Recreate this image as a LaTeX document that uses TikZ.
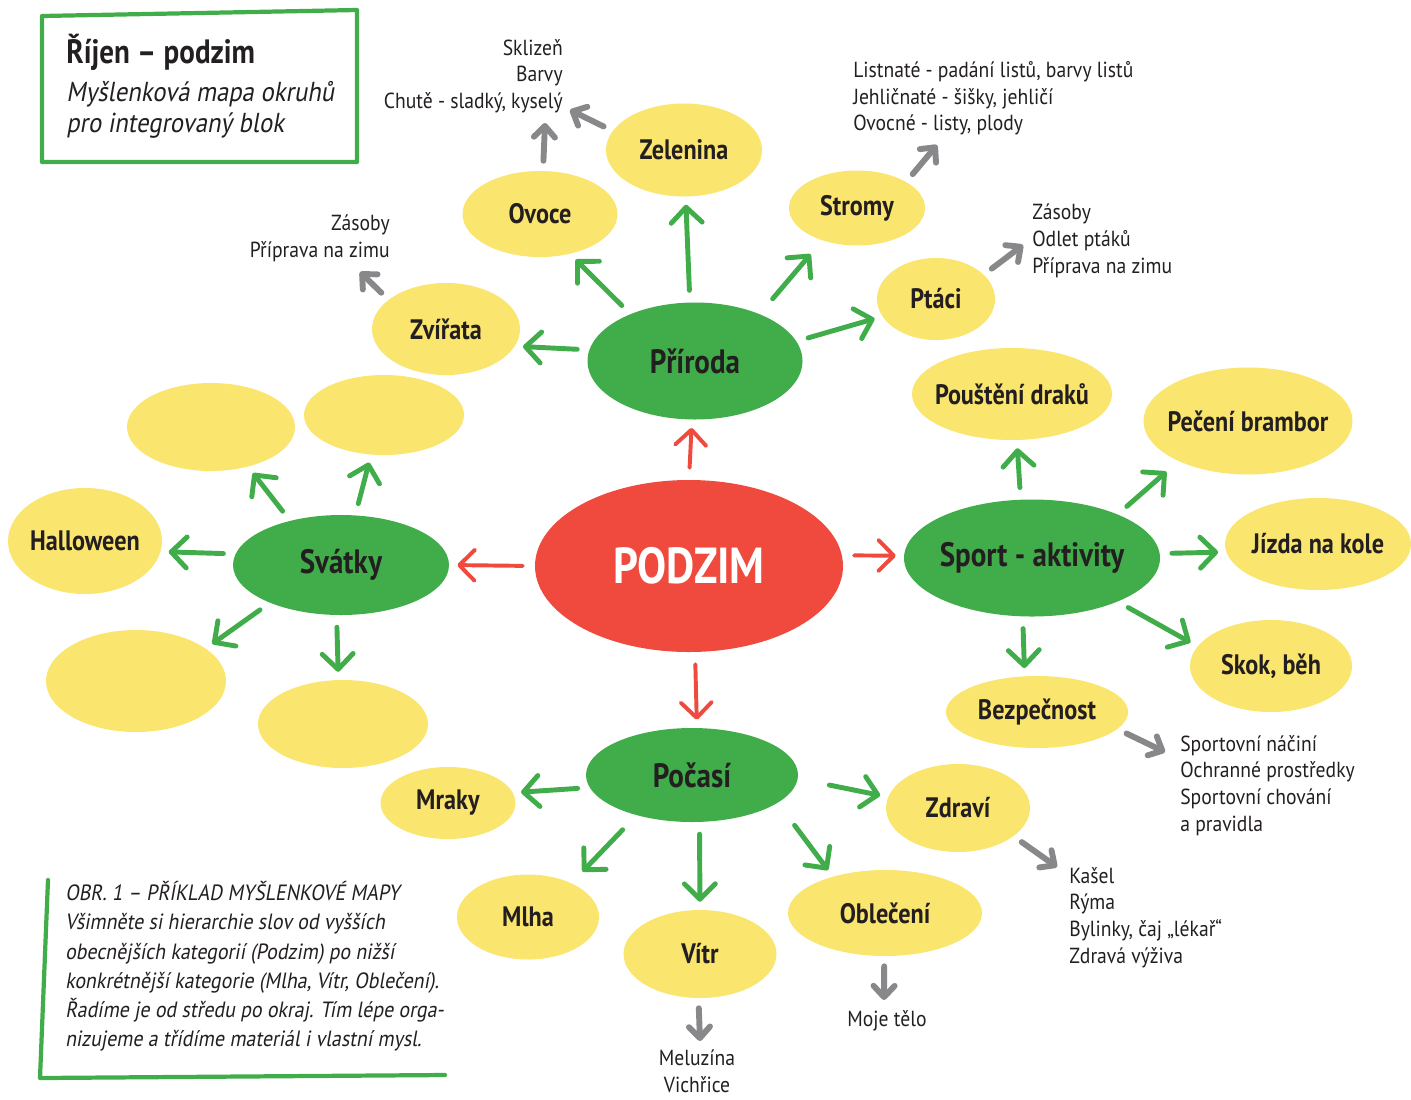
\documentclass[tikz,border=0pt]{standalone}
\usepackage{fontspec}
\setmainfont{PT Sans}[FakeStretch=0.86]
\newfontfamily\notefont{PT Sans}[FakeStretch=0.9]
\newfontfamily\slantfont{PT Sans}[FakeStretch=0.9,FakeSlant=0.18]
\usetikzlibrary{shapes.geometric,arrows.meta}

\definecolor{leafgreen}{RGB}{64,173,74}
\definecolor{sunyellow}{RGB}{250,229,110}
\definecolor{autumnred}{RGB}{239,74,61}
\definecolor{arrowgrey}{RGB}{136,136,138}
\definecolor{ink}{RGB}{35,31,32}

\newcommand{\cen}[1]{\makebox[0pt]{#1}}

\tikzset{
  blob/.style={ellipse, fill=sunyellow, inner sep=0pt, text=ink, font=\bfseries\fontsize{20}{24}\selectfont},
  branch/.style={blob, fill=leafgreen, font=\bfseries\fontsize{24}{28}\selectfont},
  core/.style={blob, fill=autumnred, text=white, font=\bfseries\fontsize{36}{40}\selectfont},
  sz/.style 2 args={minimum width=#1*0.025cm, minimum height=#2*0.025cm},
  note/.style={inner sep=0pt, text=ink, font=\notefont\fontsize{15.5}{19}\selectfont},
  redarrow/.style={draw=autumnred, line width=2.8pt, line cap=round, -{Straight Barb[length=11pt,width=22pt,round]}, shorten <=0.3cm, shorten >=0.2cm},
  greenarrow/.style={draw=leafgreen, line width=3.5pt, line cap=round, -{Straight Barb[length=11pt,width=22pt,round]}, shorten <=0.3cm, shorten >=0.2cm},
  greyarrow/.style={draw=arrowgrey, line width=4.2pt, line cap=round, -{Straight Barb[length=8pt,width=15pt,round]}, shorten <=0.25cm},
  frame/.style={draw=leafgreen, line width=3pt, line cap=round, line join=round},
}

\begin{document}
\begin{tikzpicture}[x=0.025cm, y=-0.025cm]
  \useasboundingbox (0,0) rectangle (1411,1099);

  \draw [frame] (42,16) -- (357,10) -- (357,162) -- (42,162) -- cycle;
  \node [anchor=base west, inner sep=0pt, text=ink, font=\bfseries\fontsize{24}{28}\selectfont] (title) at (66,63) {Říjen – podzim};
  \node [anchor=north west, inner sep=0pt, text=ink, align=left, font=\slantfont\fontsize{19.5}{22}\selectfont] (subtitle) at (66,81) {Myšlenková mapa okruhů\\pro integrovaný blok};

  \node [core, sz={308}{172}] (podzim) at (689,566) {\cen{PODZIM}};
  \node [branch, sz={215}{117}] (priroda) at (695,361) {\cen{Příroda}};
  \node [branch, sz={216}{100}] (svatky) at (341,565) {\cen{Svátky}};
  \node [branch, sz={256}{117}] (sport) at (1032,558) {\cen{Sport - aktivity}};
  \node [branch, sz={212}{94}] (pocasi) at (692,775) {\cen{Počasí}};

  \node [blob, sz={156}{93}] (zelenina) at (684,150) {\cen{Zelenina}};
  \node [blob, sz={155}{86}] (ovoce) at (540,214) {\cen{Ovoce}};
  \node [blob, sz={136}{75}] (stromy) at (857,208) {\cen{Stromy}};
  \node [blob, sz={118}{82}] (ptaci) at (936,299) {\cen{Ptáci}};
  \node [blob, sz={148}{92}] (zvirata) at (446,329) {\cen{Zvířata}};
  \node [blob, sz={200}{92}] (draci) at (1012,394) {\cen{Pouštění draků}};
  \node [blob, sz={209}{107}] (brambory) at (1248,421) {\cen{Pečení brambor}};
  \node [blob, sz={186}{92}] (kolo) at (1318,544) {\cen{Jízda na kole}};
  \node [blob, sz={162}{92}] (skok) at (1271,666) {\cen{Skok, běh}};
  \node [blob, sz={182}{72}] (bezpecnost) at (1037,712) {\cen{Bezpečnost}};
  \node [blob, sz={144}{88}] (zdravi) at (958,808) {\cen{Zdraví}};
  \node [blob, sz={194}{86}] (obleceni) at (885,913) {\cen{Oblečení}};
  \node [blob, sz={153}{88}] (vitr) at (700,954) {\cen{Vítr}};
  \node [blob, sz={142}{85}] (mlha) at (528,917) {\cen{Mlha}};
  \node [blob, sz={135}{72}] (mraky) at (448,803) {\cen{Mraky}};
  \node [blob, sz={154}{106}] (halloween) at (85,541) {\cen{Halloween}};
  \node [blob, sz={168}{88}] (svatekA) at (211,427) {};
  \node [blob, sz={160}{80}] (svatekB) at (384,415) {};
  \node [blob, sz={180}{102}] (svatekC) at (136,681) {};
  \node [blob, sz={170}{88}] (svatekD) at (343,724) {};

  \node [note, anchor=north east, align=right] (ovocetxt) at (563,39) {Sklizeň\\Barvy\\Chutě - sladký, kyselý};
  \node [note, anchor=north east, align=right] (zviratatxt) at (390,215) {Zásoby\\Příprava na zimu};
  \node [note, anchor=north west, align=left] (stromytxt) at (853,61) {Listnaté - padání listů, barvy listů\\Jehličnaté - šišky, jehličí\\Ovocné - listy, plody};
  \node [note, anchor=north west, align=left] (ptacitxt) at (1032,204) {Zásoby\\Odlet ptáků\\Příprava na zimu};
  \node [note, anchor=north west, align=left] (bezpecnosttxt) at (1180,735) {Sportovní náčiní\\Ochranné prostředky\\Sportovní chování\\a pravidla};
  \node [note, anchor=north west, align=left] (zdravitxt) at (1069,867) {Kašel\\Rýma\\Bylinky, čaj „lékař“\\Zdravá výživa};
  \node [note, anchor=north, align=center] (vitrtxt) at (697,1050) {Meluzína\\Vichřice};
  \node [note, anchor=north, align=center] (obleceninxt) at (887,1010) {Moje tělo};

  \draw [redarrow] (podzim.north) -- (priroda.-93);
  \draw [redarrow] (podzim.west) -- (svatky.east);
  \draw [redarrow] (podzim.4) -- (sport.179);
  \draw [redarrow] (podzim.-86) -- (pocasi.84);

  \draw [greenarrow] (priroda.174) -- (zvirata.-14);
  \draw [greenarrow] (priroda.144) -- (ovoce.-53);
  \draw [greenarrow] (priroda.95) -- (zelenina.-88);
  \draw [greenarrow, shorten <=0.5cm, shorten >=0.45cm] (priroda.36) -- (stromy.-137);
  \draw [greenarrow] (priroda.11) -- (ptaci.-162);

  \draw [greenarrow] (svatky.174) -- (halloween.-8);
  \draw [greenarrow] (svatky.139) -- (svatekA.-47);
  \draw [greenarrow] (svatky.74) -- (svatekB.-108);
  \draw [greenarrow] (svatky.-152) -- (svatekC.25);
  \draw [greenarrow] (svatky.-95) -- (svatekD.96);

  \draw [greenarrow] (sport.101) -- (draci.-84);
  \draw [greenarrow, shorten >=0.4cm] (sport.27) -- (brambory.-150);
  \draw [greenarrow] (sport.2) -- (kolo.-175);
  \draw [greenarrow] (sport.-27) -- (skok.165);
  \draw [greenarrow] (sport.-99) -- (bezpecnost.109);

  \draw [greenarrow] (pocasi.-173) -- (mraky.9);
  \draw [greenarrow, shorten <=0.5cm, shorten >=0.4cm] (pocasi.-144) -- (mlha.38);
  \draw [greenarrow] (pocasi.-81) -- (vitr.90);
  \draw [greenarrow, shorten <=0.7cm] (pocasi.-18) -- (obleceni.145);
  \draw [greenarrow, shorten <=0.8cm] (pocasi.-2) -- (zdravi.171);

  \coordinate (ovocetip) at (545,123);
  \coordinate (zeleninatip) at (570,110);
  \coordinate (stromytip) at (937,145);
  \coordinate (ptacitip) at (1023,245);
  \coordinate (zviratatip) at (360,272);
  \coordinate (bezpecnosttip) at (1165,752);
  \coordinate (zdravitip) at (1057,867);
  \coordinate (vitrtip) at (700,1041);
  \coordinate (oblecenitip) at (884,1000);
  \draw [greyarrow] (ovoce.86) -- (ovocetip);
  \draw [greyarrow] (zelenina.165) -- (zeleninatip);
  \draw [greyarrow] (stromy.28) -- (stromytip);
  \draw [greyarrow] (ptaci.27) -- (ptacitip);
  \draw [greyarrow] (zvirata.153) -- (zviratatip);
  \draw [greyarrow] (bezpecnost.-12) -- (bezpecnosttip);
  \draw [greyarrow] (zdravi.-27) -- (zdravitip);
  \draw [greyarrow] (vitr.-92) -- (vitrtip);
  \draw [greyarrow] (obleceni.-91) -- (oblecenitip);

  \draw [frame] (48,880) -- (40,1078) -- (445,1075);
  \node [anchor=north west, inner sep=0pt, text=ink, align=left, font=\slantfont\fontsize{15.7}{20.8}\selectfont] (caption) at (65,881) {OBR. 1 – PŘÍKLAD MYŠLENKOVÉ MAPY\\Všimněte si hierarchie slov od vyšších\\obecnějších kategorií (Podzim) po nižší\\konkrétnější kategorie (Mlha, Vítr, Oblečení).\\Řadíme je od středu po okraj. Tím lépe orga-\\nizujeme a třídíme materiál i vlastní mysl.};
\end{tikzpicture}
\end{document}
